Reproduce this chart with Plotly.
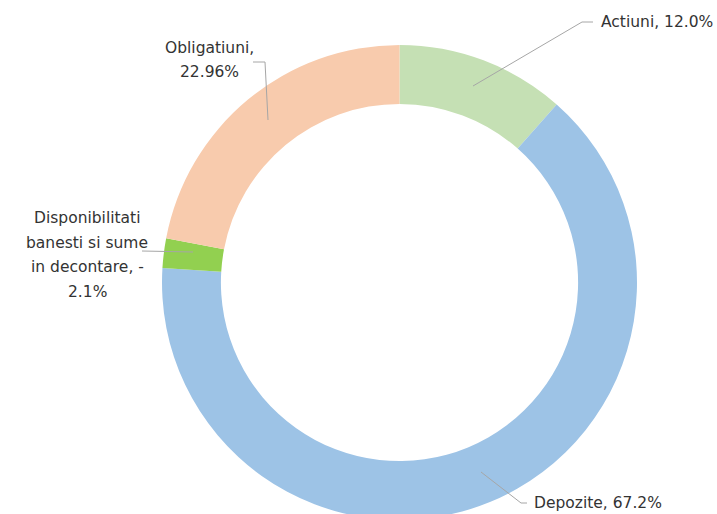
import plotly.graph_objects as go

W, H = 717, 520  # figure slightly taller than the window; bottom of ring is cropped as in reference

categories = ["Actiuni", "Depozite", "Disponibilitati banesti si sume in decontare", "Obligatiuni"]
values = [12.0, 67.2, 2.1, 22.96]
label_lines = [
    ["Actiuni, 12.0%"],
    ["Depozite, 67.2%"],
    ["Disponibilitati", "banesti si sume", "in decontare, -", "2.1%"],
    ["Obligatiuni,", "22.96%"],
]
colors = ["#C5E0B4", "#9DC3E6", "#92D050", "#F8CBAD"]


def px(x, y):
    return x / W, 1 - y / H


fig = go.Figure(go.Pie(
    labels=categories,
    values=values,
    hole=0.752,
    sort=False,
    direction="clockwise",
    rotation=0,
    textinfo="none",
    marker=dict(colors=colors, line=dict(color="white", width=0)),
    domain=dict(x=[162 / W, 637 / W], y=[0, 475 / H]),
    showlegend=False,
))

font = dict(family="DejaVu Sans, sans-serif", size=15.5, color="#333333")

placements = [
    (599, 22, "left"),
    (532, 503, "left"),
    (87, 218, "center"),
    (209, 48, "center"),
]
line_h = 24.5
for lines, (x, y0, anchor) in zip(label_lines, placements):
    for i, t in enumerate(lines):
        ax, ay = px(x, y0 + i * line_h)
        fig.add_annotation(x=ax, y=ay, xref="paper", yref="paper", text=t,
                           showarrow=False, xanchor=anchor, yanchor="middle", font=font)

leaders = [
    [(473, 86), (582, 22), (593, 22)],
    [(481, 472), (521, 503), (527, 503)],
    [(142, 251), (193, 252)],
    [(253, 62), (265, 62), (268, 120)],
]
for pts in leaders:
    for (x1, y1), (x2, y2) in zip(pts[:-1], pts[1:]):
        a1, b1 = px(x1, y1)
        a2, b2 = px(x2, y2)
        fig.add_shape(type="line", xref="paper", yref="paper", x0=a1, y0=b1, x1=a2, y1=b2,
                      line=dict(color="#A6A6A6", width=1))

fig.update_layout(width=W, height=H, margin=dict(l=0, r=0, t=0, b=0),
                  paper_bgcolor="white", plot_bgcolor="white")
fig.write_html("out.html", config={"displayModeBar": False},
               post_script="document.body.style.margin='0';document.body.style.overflow='hidden';")
